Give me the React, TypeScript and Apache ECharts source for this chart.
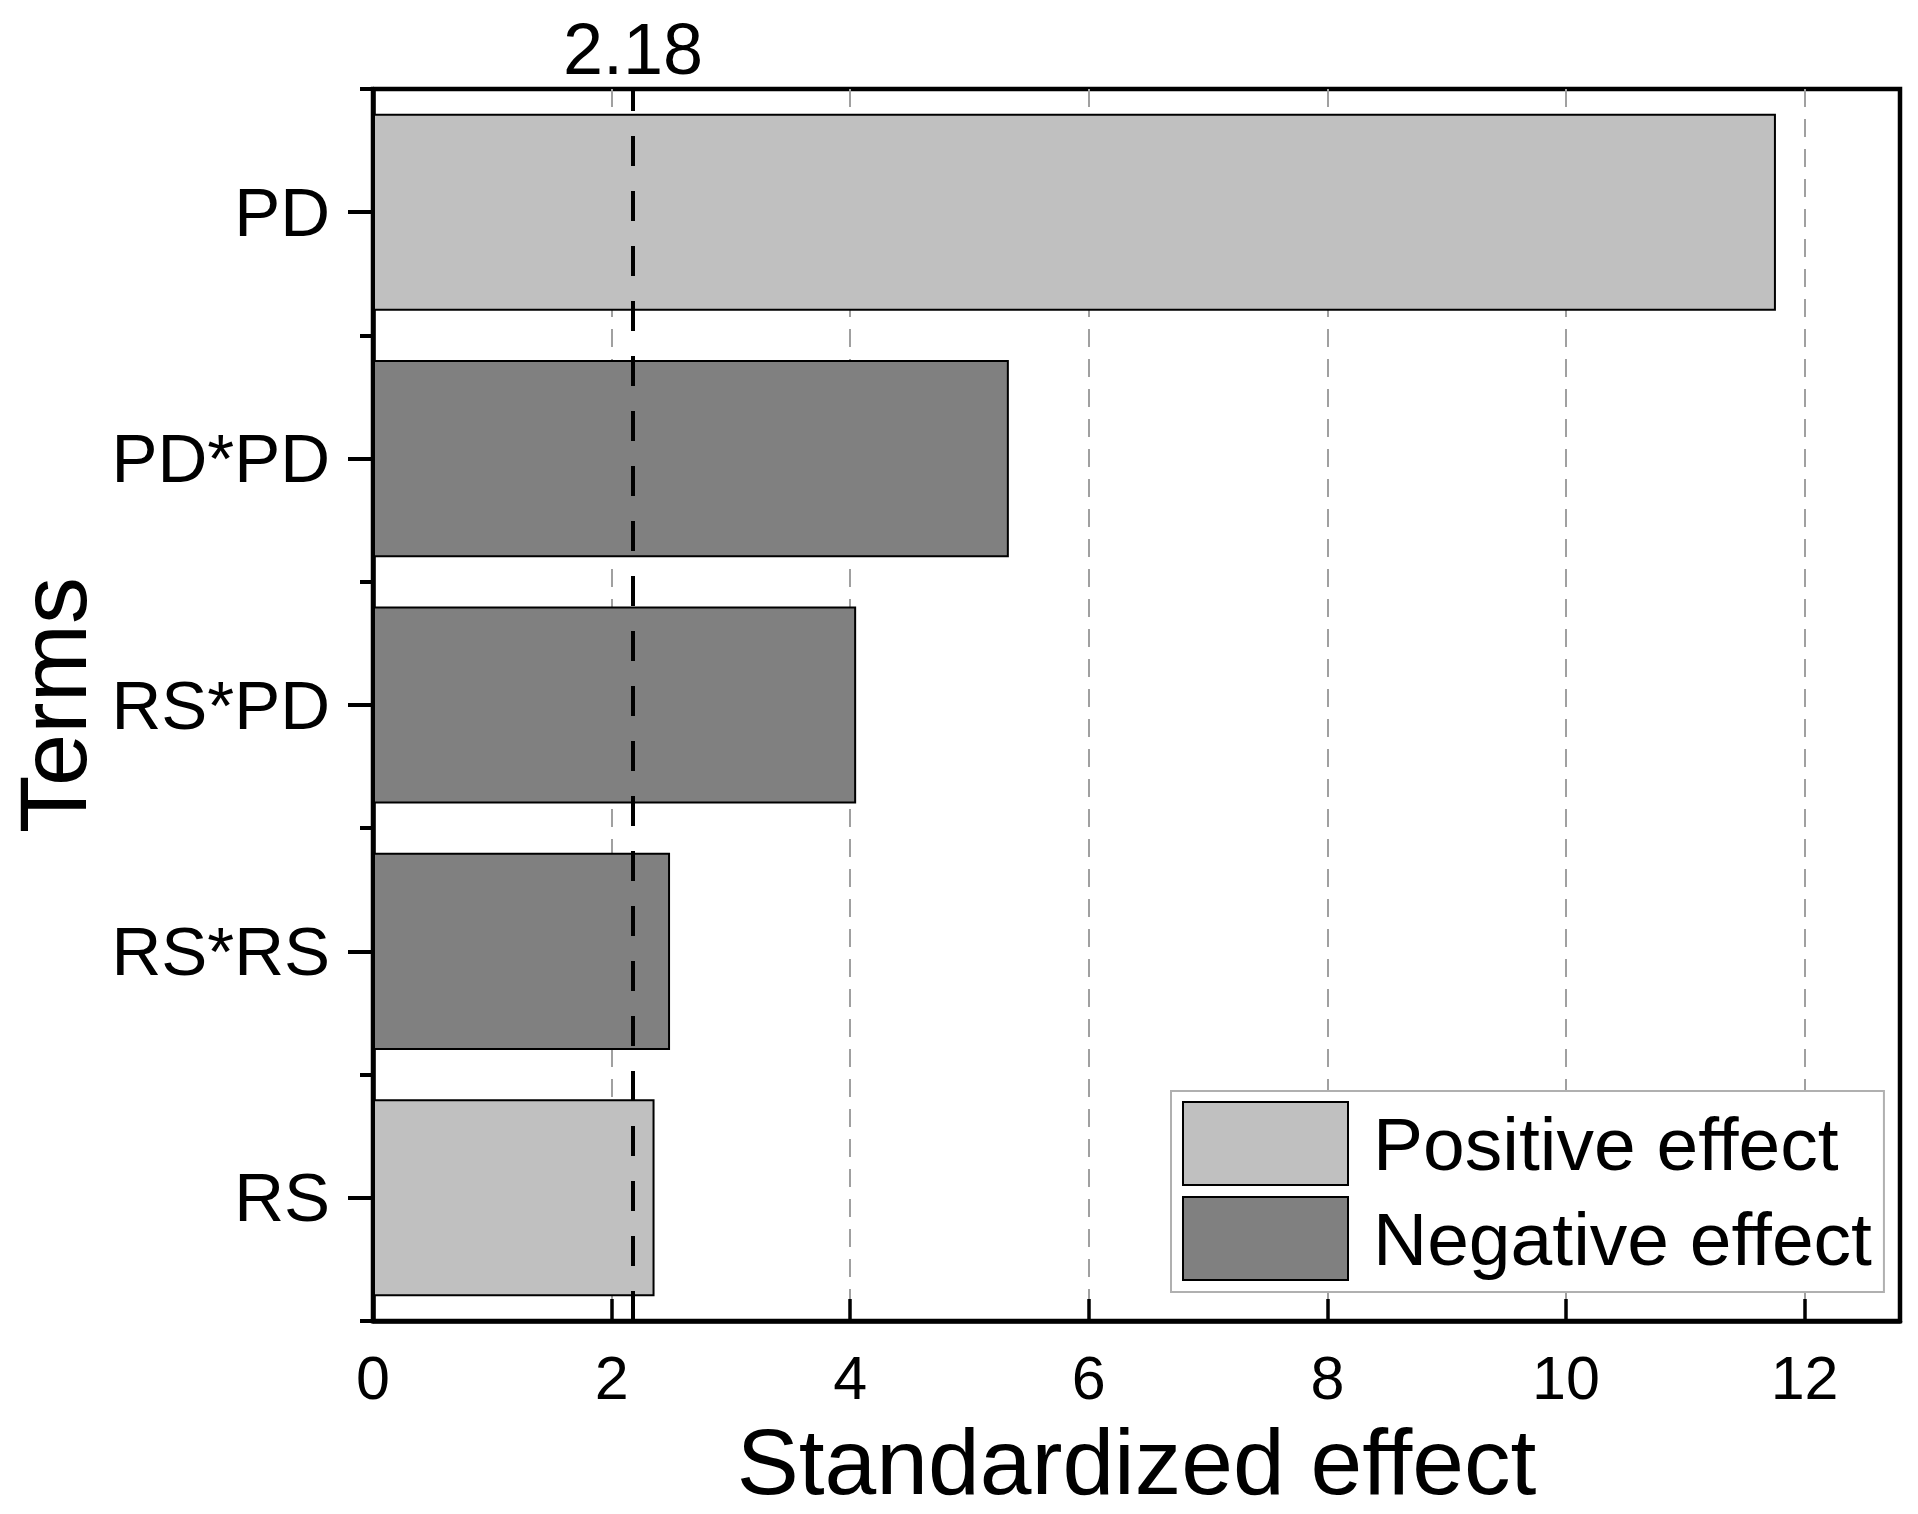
import React, { useEffect, useRef } from "react";
import * as echarts from "echarts";

// Terms from bottom to top (category axis order)
const terms = ["RS", "RS*RS", "RS*PD", "PD*PD", "PD"];
const effects = [2.36, 2.49, 4.05, 5.33, 11.76];
const signs = ["positive", "negative", "negative", "negative", "positive"];
const criticalValue = 2.18;
const xTicks = [0, 2, 4, 6, 8, 10, 12];
const xMax = 12.8;
const seriesNames = ["Positive effect", "Negative effect"];

const FONT = "'Liberation Sans', Arial, sans-serif";

export default function App() {
  const ref = useRef<HTMLDivElement>(null);

  useEffect(() => {
    if (!ref.current) return;
    const chart = echarts.init(ref.current, undefined, { renderer: "svg" });

    const posData = effects.map((v, i) => (signs[i] === "positive" ? v : null));
    const negData = effects.map((v, i) => (signs[i] === "negative" ? v : null));

    chart.setOption({
      animation: false,
      backgroundColor: "#ffffff",
      textStyle: { fontFamily: FONT, color: "#000" },
      grid: {
        left: 373,
        top: 89,
        right: 18,
        bottom: 193,
        containLabel: false,
        outerBoundsMode: "none",
        show: true,
        borderColor: "#000",
        borderWidth: 4.5,
        backgroundColor: "transparent",
      },
      legend: {
        orient: "vertical",
        left: 1171,
        top: 1091,
        padding: [10, 12, 11, 11],
        itemWidth: 165,
        itemHeight: 83,
        itemGap: 10,
        icon: "rect",
        backgroundColor: "#fff",
        borderColor: "#b0b0b0",
        borderWidth: 2,
        data: seriesNames,
        textStyle: {
          fontSize: 75,
          fontFamily: FONT,
          color: "#000",
          padding: [0, 0, 0, 20],
        },
      },
      xAxis: {
        type: "value",
        min: 0,
        max: xMax,
        interval: 2,
        name: "Standardized effect",
        nameLocation: "middle",
        nameGap: 94,
        nameTextStyle: { fontSize: 93, fontFamily: FONT, color: "#000" },
        axisLine: { show: true, lineStyle: { color: "#000", width: 4.5 } },
        axisTick: { show: true, inside: true, length: 22, lineStyle: { color: "#000", width: 3.5 } },
        axisLabel: {
          fontSize: 61,
          fontFamily: FONT,
          color: "#000",
          margin: 26,
          showMaxLabel: false,
          formatter: (v: number) => (xTicks.includes(v) ? String(v) : ""),
        },
        splitLine: {
          show: true,
          showMinLine: false,
          showMaxLine: false,
          lineStyle: { color: "#a0a0a0", width: 2, type: [18, 12] },
        },
      },
      yAxis: [
        {
          type: "category",
          data: terms,
          position: "left",
          name: "Terms",
          nameLocation: "middle",
          nameGap: 268,
          nameTextStyle: { fontSize: 94, fontFamily: FONT, color: "#000" },
          axisLine: { show: true, lineStyle: { color: "#000", width: 4.5 } },
          axisTick: { show: true, alignWithLabel: true, length: 25, lineStyle: { color: "#000", width: 4 } },
          axisLabel: { fontSize: 69, fontFamily: FONT, color: "#000", margin: 43 },
          splitLine: { show: false },
        },
        {
          type: "category",
          data: terms,
          position: "left",
          axisLine: { show: false },
          axisTick: { show: true, length: 13, lineStyle: { color: "#000", width: 4 } },
          axisLabel: { show: false },
          splitLine: { show: false },
        },
      ],
      series: [
        {
          name: seriesNames[0],
          type: "bar",
          stack: "effect",
          yAxisIndex: 0,
          barWidth: "80%",
          data: posData,
          itemStyle: { color: "#c0c0c0", borderColor: "#000", borderWidth: 2 },
          markLine: {
            silent: true,
            symbol: "none",
            lineStyle: { color: "#000", width: 4, type: [30, 25] },
            label: {
              show: true,
              position: "end",
              formatter: String(criticalValue),
              fontSize: 72,
              fontFamily: FONT,
              color: "#000",
              distance: 4,
            },
            data: [{ xAxis: criticalValue }],
          },
        },
        {
          name: seriesNames[1],
          type: "bar",
          stack: "effect",
          yAxisIndex: 0,
          barWidth: "80%",
          data: negData,
          itemStyle: { color: "#808080", borderColor: "#000", borderWidth: 2 },
        },
      ],
    });

    return () => chart.dispose();
  }, []);

  return (
    <div
      ref={ref}
      style={{ position: "absolute", left: 0, top: 0, width: 1918, height: 1514 }}
    />
  );
}
